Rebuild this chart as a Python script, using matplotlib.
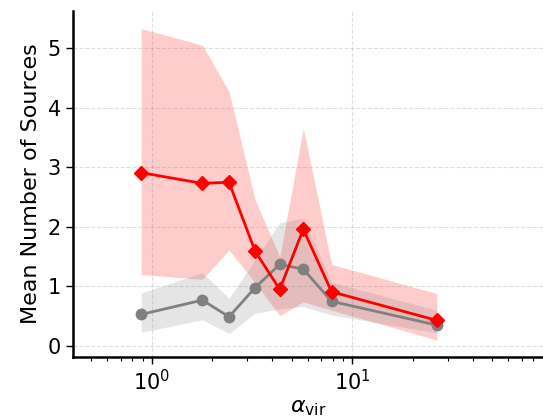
import matplotlib
matplotlib.use("Agg")
import matplotlib.pyplot as plt
import numpy as np

# Virial parameter bins
alpha_vir = [0.887, 1.79, 2.43, 3.28, 4.35, 5.70, 7.89, 26.4]

# Red series: mean and spread
red_mean = [2.91, 2.73, 2.75, 1.59, 0.95, 1.96, 0.91, 0.43]
red_low = [1.20, 1.12, 1.61, 1.06, 0.51, 0.74, 0.60, 0.10]
red_high = [5.33, 5.05, 4.27, 2.45, 1.50, 3.66, 1.37, 0.88]

# Gray series: mean and spread
gray_mean = [0.53, 0.77, 0.49, 0.98, 1.37, 1.29, 0.75, 0.35]
gray_low = [0.23, 0.44, 0.21, 0.55, 0.62, 0.66, 0.52, 0.22]
gray_high = [0.89, 1.23, 0.80, 1.45, 2.07, 2.14, 1.07, 0.60]

fig = plt.figure(figsize=(5.43, 4.19), dpi=100)
ax = fig.add_axes([0.134, 0.1487, 0.866, 0.8258])

ax.fill_between(alpha_vir, red_low, red_high, color="red", alpha=0.2, linewidth=0)
ax.fill_between(alpha_vir, gray_low, gray_high, color="gray", alpha=0.2, linewidth=0)
ax.plot(alpha_vir, gray_mean, color="gray", marker="o", markersize=7.5, linewidth=2)
ax.plot(alpha_vir, red_mean, color="red", marker="D", markersize=7.5, linewidth=2)

ax.set_xscale("log")
ax.set_xlim(0.404, 89.4)
ax.set_ylim(-0.18, 5.63)

ax.grid(True, which="major", linestyle="--", color="gray", alpha=0.25, linewidth=0.8)
ax.spines["top"].set_visible(False)
ax.spines["right"].set_visible(False)
ax.spines["left"].set_linewidth(1.8)
ax.spines["bottom"].set_linewidth(1.8)

ax.tick_params(axis="both", which="major", labelsize=15, length=5, width=1)
ax.tick_params(axis="both", which="minor", length=3, width=0.8)

ax.set_xlabel(r"$\alpha_{\rm vir}$", fontsize=16, labelpad=3)
ax.set_ylabel("Mean Number of Sources", fontsize=16, labelpad=5)

fig.savefig("out.png", dpi=100)
